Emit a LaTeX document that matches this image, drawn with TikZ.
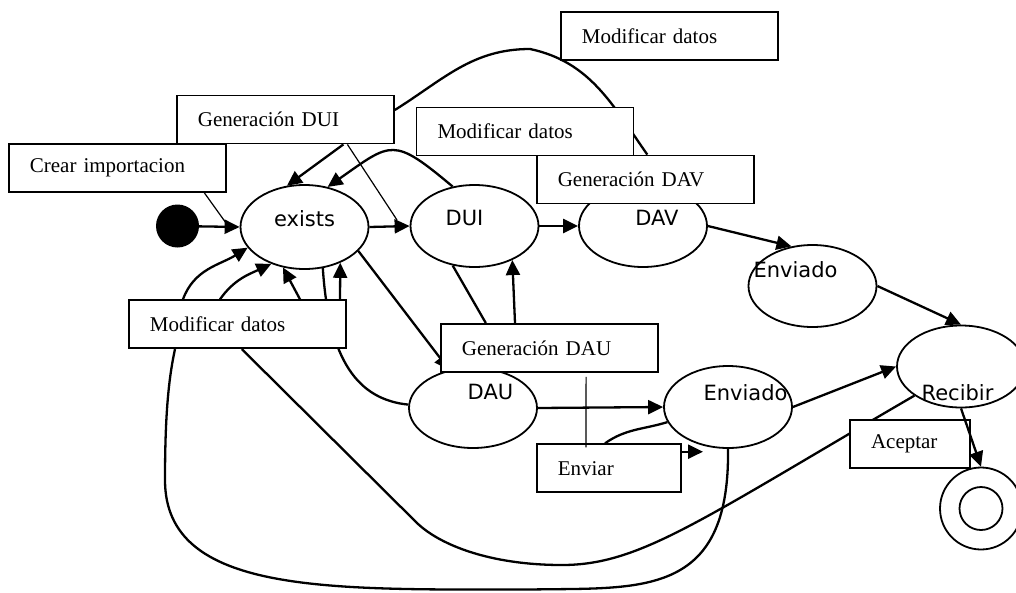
\documentclass[tikz,border=0pt]{standalone}
\usepackage{fontspec}
\setmainfont{Liberation Serif}
\newfontfamily\statefont{DejaVu Sans}
\usetikzlibrary{arrows.meta,shapes.geometric}
\pgfdeclarelayer{bg}
\pgfsetlayers{bg,main}

\begin{document}
\begin{tikzpicture}[x=1pt,y=-1pt,
  stateshape/.style={ellipse, draw, line width=1.8pt, fill=white,
    minimum width=128pt, minimum height=82pt, inner sep=0pt},
  statetext/.style={font=\statefont\fontsize{21}{25}\selectfont, inner sep=0pt},
  actbox/.style={rectangle, draw, line width=1.8pt, fill=white,
    inner xsep=21pt, inner ysep=0pt, minimum height=48pt, align=left,
    font=\fontsize{21}{25}\selectfont},
  flow/.style={line width=2.3pt},
  tip/.style={-{Triangle[length=15pt,width=14pt]}},
  thinline/.style={line width=1.2pt}
]
\useasboundingbox (0,0) rectangle (1016,592);

% states
\node[circle, fill=black, minimum size=43pt, inner sep=0pt] (init) at (177.5,226) {};
\node[stateshape, minimum height=84pt,
  label={[statetext,shift={(0,-8.5)}]center:exists}] (exists) at (304.5,227) {};
\node[stateshape, label={[statetext,shift={(-10,-8.5)}]center:DUI}] (dui) at (474.5,226) {};
\node[stateshape, label={[statetext,shift={(14,-8.5)}]center:DAV}] (dav) at (643,226) {};
\node[stateshape, label={[statetext,shift={(-17,-16)}]center:Enviado}] (env1) at (812.5,286) {};
\node[stateshape, label={[statetext,shift={(-3.5,26)}]center:Recibir}] (recibir) at (961,366.5) {};
\node[stateshape, label={[statetext,shift={(17.5,-14.5)}]center:Enviado}] (env2) at (728,407) {};
\node[stateshape, minimum height=80pt,
  label={[statetext,shift={(17.5,-16)}]center:DAU}] (dau) at (473,408) {};
\node[circle, draw, line width=1.8pt, minimum size=82pt, inner sep=0pt] (final) at (981,508.5) {};
\node[circle, draw, line width=1.8pt, minimum size=43pt, inner sep=0pt] (finalin) at (981,508.5) {};

% action boxes
\node[actbox, text width=175pt] (modtop) at (669.4,35.9) {Modificar datos};
\node[actbox, text width=175pt] (gendui) at (285.4,119.5) {Generación DUI};
\node[actbox, text width=175pt] (modmid) at (525,131.5) {Modificar datos};
\node[actbox, text width=175pt] (gendav) at (645.3,179.5) {Generación DAV};
\node[actbox, text width=175pt] (crear) at (117.4,168) {Crear importacion};
\node[actbox, text width=175pt] (modleft) at (237.4,324.2) {Modificar datos};
\node[actbox, text width=175pt] (gendau) at (549.4,347.9) {Generación DAU};
\node[actbox, text width=102.3pt] (enviar) at (608.9,468.2) {Enviar};
\node[actbox, text width=78pt] (aceptar) at (910,444.2) {Aceptar};

% free ends of open lines
\coordinate (crearEnd) at (226,223);
\coordinate (duiEnd) at (397,220);
\coordinate (enviarTip) at (703,451.7);

\begin{pgfonlayer}{bg}
  \draw[flow,tip] (init) -- (exists.west);
  \draw[thinline] ([xshift=87pt]crear.south) -- (crearEnd);
  \draw[flow,tip] ([xshift=58pt]gendui.south) -- (exists.113);
  \draw[thinline] ([xshift=62pt]gendui.south) -- (duiEnd);
  \draw[flow,tip] (exists.east) -- (dui.west);
  \draw[flow,tip] (dui.119) to[out=140,in=35,looseness=1.6] (exists.60);
  \draw[flow] ([yshift=9.5pt]gendui.east) to[out=32,in=180] (530,49)
    to[out=-12,in=125] ([xshift=2pt]gendav.north);
  \draw[flow,tip] (dui.east) -- (dav.west);
  \draw[flow,tip] (dav.east) -- (env1.118);
  \draw[flow,tip] (env1.east) -- (recibir.north);

  \draw[flow,tip] (exists.-24) -- (dau.122);
  \draw[flow] (exists.-66) .. controls +(6,93) and +(-50,-5) .. (dau.177);
  \draw[flow,tip] ([xshift=102.6pt]modleft.north) -- (exists.-45);
  \draw[flow,tip] ([xshift=62.6pt]modleft.north) -- (exists.242);
  \draw[flow,tip] ([xshift=-17.4pt]modleft.north) to[out=55,in=205] (exists.228);
  \draw[flow,tip] ([xshift=-54.4pt]modleft.north) to[out=70,in=212] (exists.200);

  \draw[flow] (env2.south) .. controls +(2,150) and +(110,-2) .. (530,589.5)
    .. controls +(-200,0) and +(0,115) .. (165,480)
    .. controls +(0,-60) and +(-7,32) .. ([xshift=-62.4pt]modleft.south);
  \draw[flow] (recibir.212) .. controls +(-215,125) and +(78,0) .. (562,565)
    .. controls +(-72,0) and +(23,22) .. (417,523)
    -- ([xshift=4.4pt]modleft.south);

  \draw[flow,tip] ([xshift=-34.4pt]gendau.north) -- (dui.-42);
  \draw[flow] (dui.-119) -- ([xshift=-63.6pt]gendau.north);
  \draw[flow,tip] (dau.east) -- (env2.west);
  \draw[flow] (env2.194) to[out=197,in=35] ([xshift=-3.9pt]enviar.north);
  \draw[flow,tip] ([yshift=16.5pt]enviar.east) -- (enviarTip);
  \draw[flow,tip] (env2.east) -- (recibir.west);
\end{pgfonlayer}

% lines drawn over the boxes
\draw[thinline] ([xshift=36.7pt,yshift=-4pt]gendau.south) -- ([xshift=-22.9pt,yshift=-4pt]enviar.north);
\draw[flow,tip] (recibir.south) -- (final.north);
\end{tikzpicture}
\end{document}
